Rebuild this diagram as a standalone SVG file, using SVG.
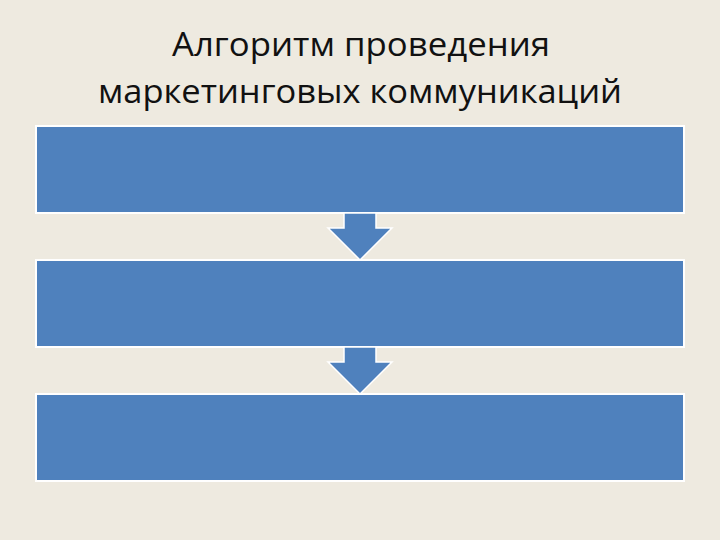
<svg xmlns="http://www.w3.org/2000/svg" width="720" height="540" viewBox="0 0 720 540">
<style>
.box{fill:#4F81BD;stroke:#FFFFFF;stroke-width:2}
.arr{fill:#4F81BD;stroke:#FFFFFF;stroke-width:1.5}
.t{font-family:"Open Sans","Noto Sans","DejaVu Sans",sans-serif;font-size:33px;fill:#111111;text-anchor:middle}
</style>
<rect width="720" height="540" fill="#EEEAE0"/>
<text class="t" x="361" y="56" textLength="378" lengthAdjust="spacingAndGlyphs">Алгоритм проведения</text>
<text class="t" x="360" y="103" textLength="524" lengthAdjust="spacingAndGlyphs">маркетинговых коммуникаций</text>
<g id="box1"><rect class="box" x="36" y="126" width="648" height="87"/></g>
<g id="box2"><rect class="box" x="36" y="260" width="648" height="87"/></g>
<g id="box3"><rect class="box" x="36" y="394" width="648" height="87"/></g>
<g id="connectors">
<path class="arr" d="M344 213 L376 213 L376 228 L392 228 L360 260 L328 228 L344 228 Z"/>
<path class="arr" d="M344 347 L376 347 L376 362 L392 362 L360 394 L328 362 L344 362 Z"/>
</g>
</svg>
